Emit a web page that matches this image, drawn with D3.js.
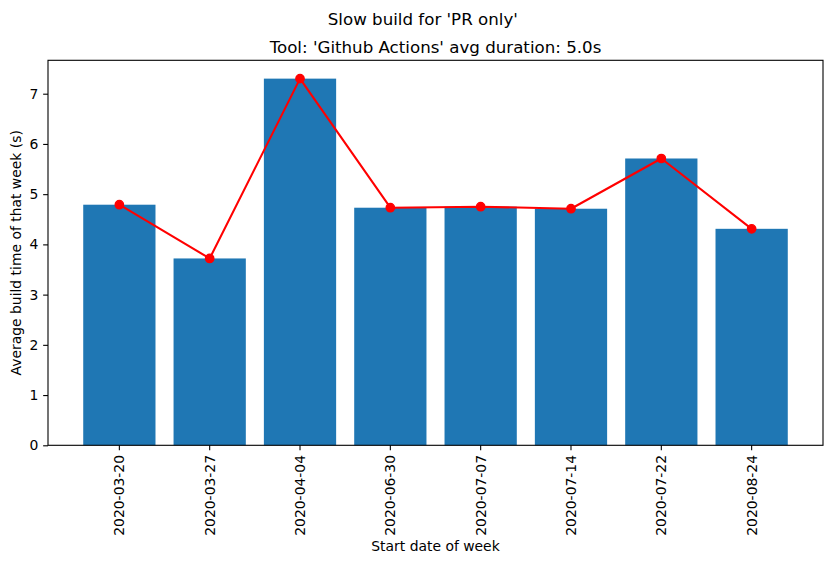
<!DOCTYPE html>
<html>
<head>
<meta charset="utf-8">
<script src="https://cdn.jsdelivr.net/npm/d3@7"></script>
<style>
  html, body { margin: 0; padding: 0; background: #fff; }
  svg { display: block; font-family: "DejaVu Sans", sans-serif; }
</style>
</head>
<body>
<svg id="chart" width="833" height="564"></svg>
<script>
const weeks = ["2020-03-20", "2020-03-27", "2020-04-04", "2020-06-30", "2020-07-07", "2020-07-14", "2020-07-22", "2020-08-24"];
const avgDuration = [4.79, 3.72, 7.30, 4.73, 4.75, 4.71, 5.71, 4.31];
const yTicks = [0, 1, 2, 3, 4, 5, 6, 7];
const suptitle = "Slow build for 'PR only'";
const title = "Tool: 'Github Actions' avg duration: 5.0s";
const xLabel = "Start date of week";
const yLabel = "Average build time of that week (s)";

const svg = d3.select("#chart");
const plotLeft = 48, plotRight = 823, plotTop = 60.3, plotBottom = 445.3;

const x = d3.scaleBand().domain(weeks).range([plotLeft, plotRight]).paddingInner(0.2).paddingOuter(0.39);
const yMax = d3.max(avgDuration) * 1.05;
const y = d3.scaleLinear().domain([0, yMax]).range([plotBottom, plotTop]);

// bars
svg.append("g").selectAll("rect").data(weeks).join("rect")
  .attr("x", d => x(d))
  .attr("width", x.bandwidth())
  .attr("y", (d, i) => y(avgDuration[i]))
  .attr("height", (d, i) => y(0) - y(avgDuration[i]))
  .attr("fill", "#1f77b4");

// line
const line = d3.line()
  .x((d, i) => x(weeks[i]) + x.bandwidth() / 2)
  .y(d => y(d));
svg.append("path").datum(avgDuration)
  .attr("d", line)
  .attr("fill", "none")
  .attr("stroke", "#ff0000")
  .attr("stroke-width", 2.08)
  .attr("stroke-linejoin", "round");
svg.append("g").selectAll("circle").data(avgDuration).join("circle")
  .attr("cx", (d, i) => x(weeks[i]) + x.bandwidth() / 2)
  .attr("cy", d => y(d))
  .attr("r", 4.17)
  .attr("fill", "#ff0000")
  .attr("stroke", "#ff0000")
  .attr("stroke-width", 1.39);

// x axis
const xAxis = d3.axisBottom(x).tickSize(4.86).tickPadding(4.86).tickSizeOuter(0);
const gx = svg.append("g").attr("transform", `translate(0,${plotBottom})`).call(xAxis);
gx.select(".domain").remove();
gx.selectAll(".tick line").attr("stroke", "#000").attr("stroke-width", 1.1);
gx.selectAll(".tick text")
  .attr("fill", "#000")
  .style("font-size", "13.9px")
  .style("font-family", "DejaVu Sans")
  .attr("text-anchor", "end")
  .attr("transform", "translate(0,9.7) rotate(-90)")
  .attr("x", 0)
  .attr("y", 0)
  .attr("dy", "0.35em");

// y axis
const yAxis = d3.axisLeft(y).tickValues(yTicks).tickFormat(d3.format("d")).tickSize(4.86).tickPadding(4.86).tickSizeOuter(0);
const gy = svg.append("g").attr("transform", `translate(${plotLeft},0)`).call(yAxis);
gy.select(".domain").remove();
gy.selectAll(".tick line").attr("stroke", "#000").attr("stroke-width", 1.1);
gy.selectAll(".tick text").attr("fill", "#000").style("font-size", "13.9px").style("font-family", "DejaVu Sans");

// frame
svg.append("rect")
  .attr("x", plotLeft).attr("y", plotTop)
  .attr("width", plotRight - plotLeft).attr("height", plotBottom - plotTop)
  .attr("fill", "none").attr("stroke", "#000").attr("stroke-width", 1.1);

// titles
svg.append("text").attr("x", 422.8).attr("y", 25)
  .attr("text-anchor", "middle").style("font-size", "16.67px").attr("fill", "#000")
  .text(suptitle);
svg.append("text").attr("x", (plotLeft + plotRight) / 2).attr("y", 52.5)
  .attr("text-anchor", "middle").style("font-size", "16.67px").attr("fill", "#000")
  .text(title);
svg.append("text").attr("x", (plotLeft + plotRight) / 2).attr("y", 550.5)
  .attr("text-anchor", "middle").style("font-size", "13.9px").attr("fill", "#000")
  .text(xLabel);
svg.append("text")
  .attr("transform", `translate(20.5,${(plotTop + plotBottom) / 2}) rotate(-90)`)
  .attr("text-anchor", "middle").style("font-size", "13.9px").attr("fill", "#000")
  .text(yLabel);
</script>
</body>
</html>
